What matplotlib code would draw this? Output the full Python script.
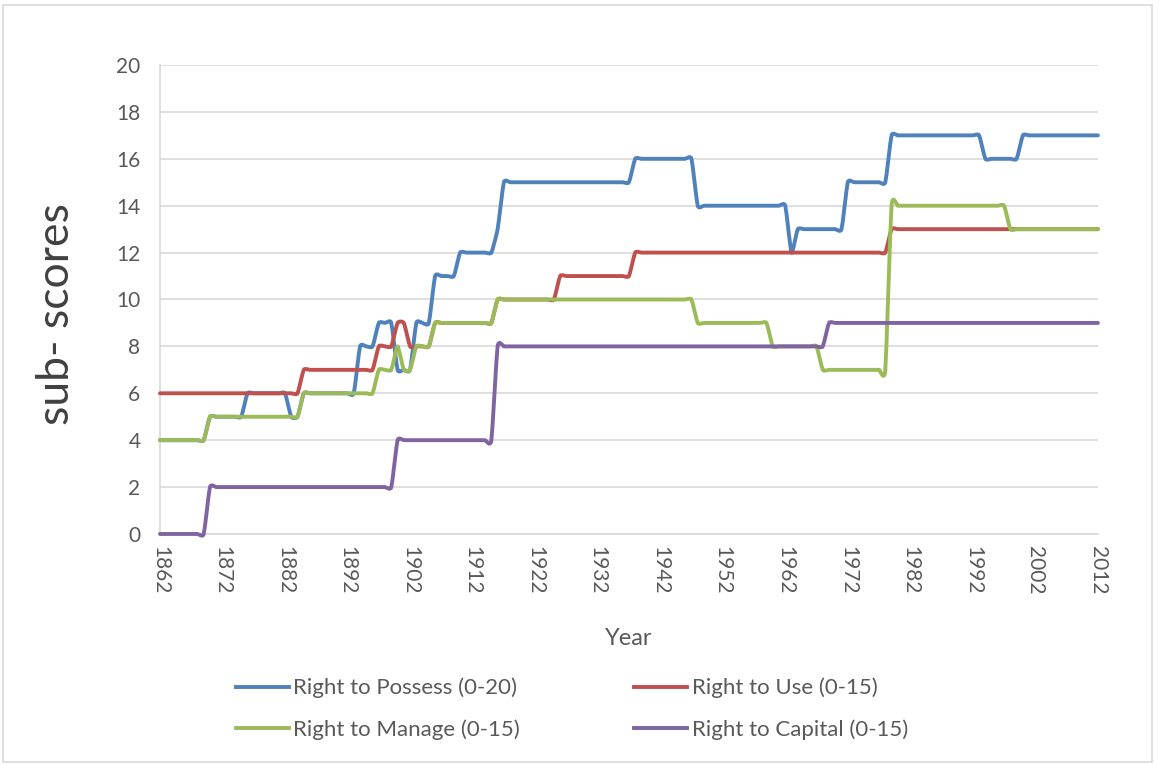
import numpy as np
import matplotlib
matplotlib.use("Agg")
import matplotlib.pyplot as plt
from matplotlib.path import Path
from matplotlib.patches import PathPatch, Rectangle
from matplotlib.lines import Line2D

plt.rcParams['font.family'] = ['Lato', 'DejaVu Sans']

# ---- data (key points of each step series) ----
possess_years = [1862, 1869, 1870, 1875, 1876, 1882, 1883, 1884, 1885, 1893, 1894, 1896, 1897,
                 1899, 1900, 1902, 1903, 1905, 1906, 1909, 1910, 1915, 1916, 1917, 1937, 1938,
                 1947, 1948, 1962, 1963, 1964, 1971, 1972, 1978, 1979, 1993, 1994, 1999, 2000, 2012]
possess_vals = [4, 4, 5, 5, 6, 6, 5, 5, 6, 6, 8, 8, 9,
                9, 7, 7, 9, 9, 11, 11, 12, 12, 13, 15, 15, 16,
                16, 14, 14, 12, 13, 13, 15, 15, 17, 17, 16, 16, 17, 17]

use_years = [1862, 1884, 1885, 1896, 1897, 1899, 1900, 1901, 1902, 1905, 1906, 1915, 1916,
             1925, 1926, 1937, 1938, 1978, 1979, 2012]
use_vals = [6, 6, 7, 7, 8, 8, 9, 9, 8, 8, 9, 9, 10,
            10, 11, 11, 12, 12, 13, 13]

manage_years = [1862, 1869, 1870, 1884, 1885, 1896, 1897, 1899, 1900, 1901, 1902, 1903, 1905,
                1906, 1915, 1916, 1947, 1948, 1959, 1960, 1967, 1968, 1978, 1979, 1997, 1998, 2012]
manage_vals = [4, 4, 5, 5, 6, 6, 7, 7, 8, 7, 7, 8, 8,
               9, 9, 10, 10, 9, 9, 8, 8, 7, 7, 14, 14, 13, 13]

capital_years = [1862, 1869, 1870, 1899, 1900, 1915, 1916, 1968, 1969, 2012]
capital_vals = [0, 0, 2, 2, 4, 4, 8, 8, 9, 9]

series_names = ["Right to Possess (0-20)", "Right to Use (0-15)",
                "Right to Manage (0-15)", "Right to Capital (0-15)"]
series_colors = ["#4F81BD", "#C0504D", "#9BBB59", "#8064A2"]

x_ticks = list(range(1862, 2013, 10))
y_ticks = list(range(0, 21, 2))


def smooth_path(xs, ys, k=0.5):
    """Excel-like smoothed line: Catmull-Rom Bezier with one-year neighbourhoods."""
    pts = np.column_stack([xs, ys]).astype(float)
    n = len(pts)

    def near(p, q):
        d = p - q
        if abs(d[0]) > 1:
            d = d / abs(d[0])
        return q + d

    tang = []
    for i in range(n):
        a = near(pts[i - 1], pts[i]) if i > 0 else pts[i]
        b = near(pts[i + 1], pts[i]) if i < n - 1 else pts[i]
        tang.append(k * (b - a) / 2.0)
    verts = [pts[0]]
    codes = [Path.MOVETO]
    for i in range(n - 1):
        p0, p1 = pts[i], pts[i + 1]
        h = p1[0] - p0[0]
        if h <= 1.0:
            verts += [p0 + tang[i] / 3.0, p1 - tang[i + 1] / 3.0, p1]
            codes += [Path.CURVE4] * 3
        else:
            u = (p1 - p0) / h
            a, b = p0 + u, p1 - u
            verts += [p0 + tang[i] / 3.0, a - k * u / 3.0, a]
            codes += [Path.CURVE4] * 3
            verts += [b]
            codes += [Path.LINETO]
            verts += [b + k * u / 3.0, p1 - tang[i + 1] / 3.0, p1]
            codes += [Path.CURVE4] * 3
    return Path(verts, codes)


fig = plt.figure(figsize=(11.59, 7.65), dpi=100)
fig.patches.append(Rectangle((0.003, 0.004), 0.991, 0.99, transform=fig.transFigure,
                             fill=False, edgecolor="#d9d9d9", linewidth=1.2))

ax = fig.add_axes([0.138, 0.302, 0.8093, 0.613])
ax.set_xlim(1862, 2012)
ax.set_ylim(0, 20)

data = [(possess_years, possess_vals), (use_years, use_vals),
        (manage_years, manage_vals), (capital_years, capital_vals)]
handles = []
for (xs, ys), name, col in zip(data, series_names, series_colors):
    patch = PathPatch(smooth_path(xs, ys), facecolor="none", edgecolor=col,
                      linewidth=2.8, capstyle="round", joinstyle="round", zorder=3,
                      clip_on=False)
    ax.add_patch(patch)
    handles.append(Line2D([], [], color=col, linewidth=2.8, label=name))

ax.set_yticks(y_ticks)
ax.set_xticks(x_ticks)
ax.set_xticklabels([str(t) for t in x_ticks], rotation=-90)
ax.grid(axis="y", color="#d9d9d9", linewidth=1.2)
ax.set_axisbelow(True)
for s in ["top", "right"]:
    ax.spines[s].set_visible(False)
ax.spines["left"].set_color("#d9d9d9")
ax.spines["bottom"].set_color("#d9d9d9")
ax.spines["left"].set_linewidth(1.2)
ax.spines["bottom"].set_linewidth(1.2)
ax.tick_params(axis="both", length=0, labelsize=15, colors="#595959")
ax.tick_params(axis="y", pad=14)
ax.tick_params(axis="x", pad=9)

ax.set_ylabel("sub- scores", fontsize=32, color="#404040")
ax.yaxis.set_label_coords(-0.088, 0.468)
ax.set_xlabel("Year", fontsize=17, color="#595959", labelpad=24)

# row-major order as in the reference: Possess, Use / Manage, Capital
order = [0, 2, 1, 3]
fig.legend(handles=[handles[i] for i in order], ncol=2, loc="upper left",
           bbox_to_anchor=(0.186, 0.140), frameon=False, fontsize=16,
           handlelength=2.4, handletextpad=0.2, columnspacing=5.13,
           labelspacing=0.95, labelcolor="#595959")

fig.savefig("out.png", dpi=100)
